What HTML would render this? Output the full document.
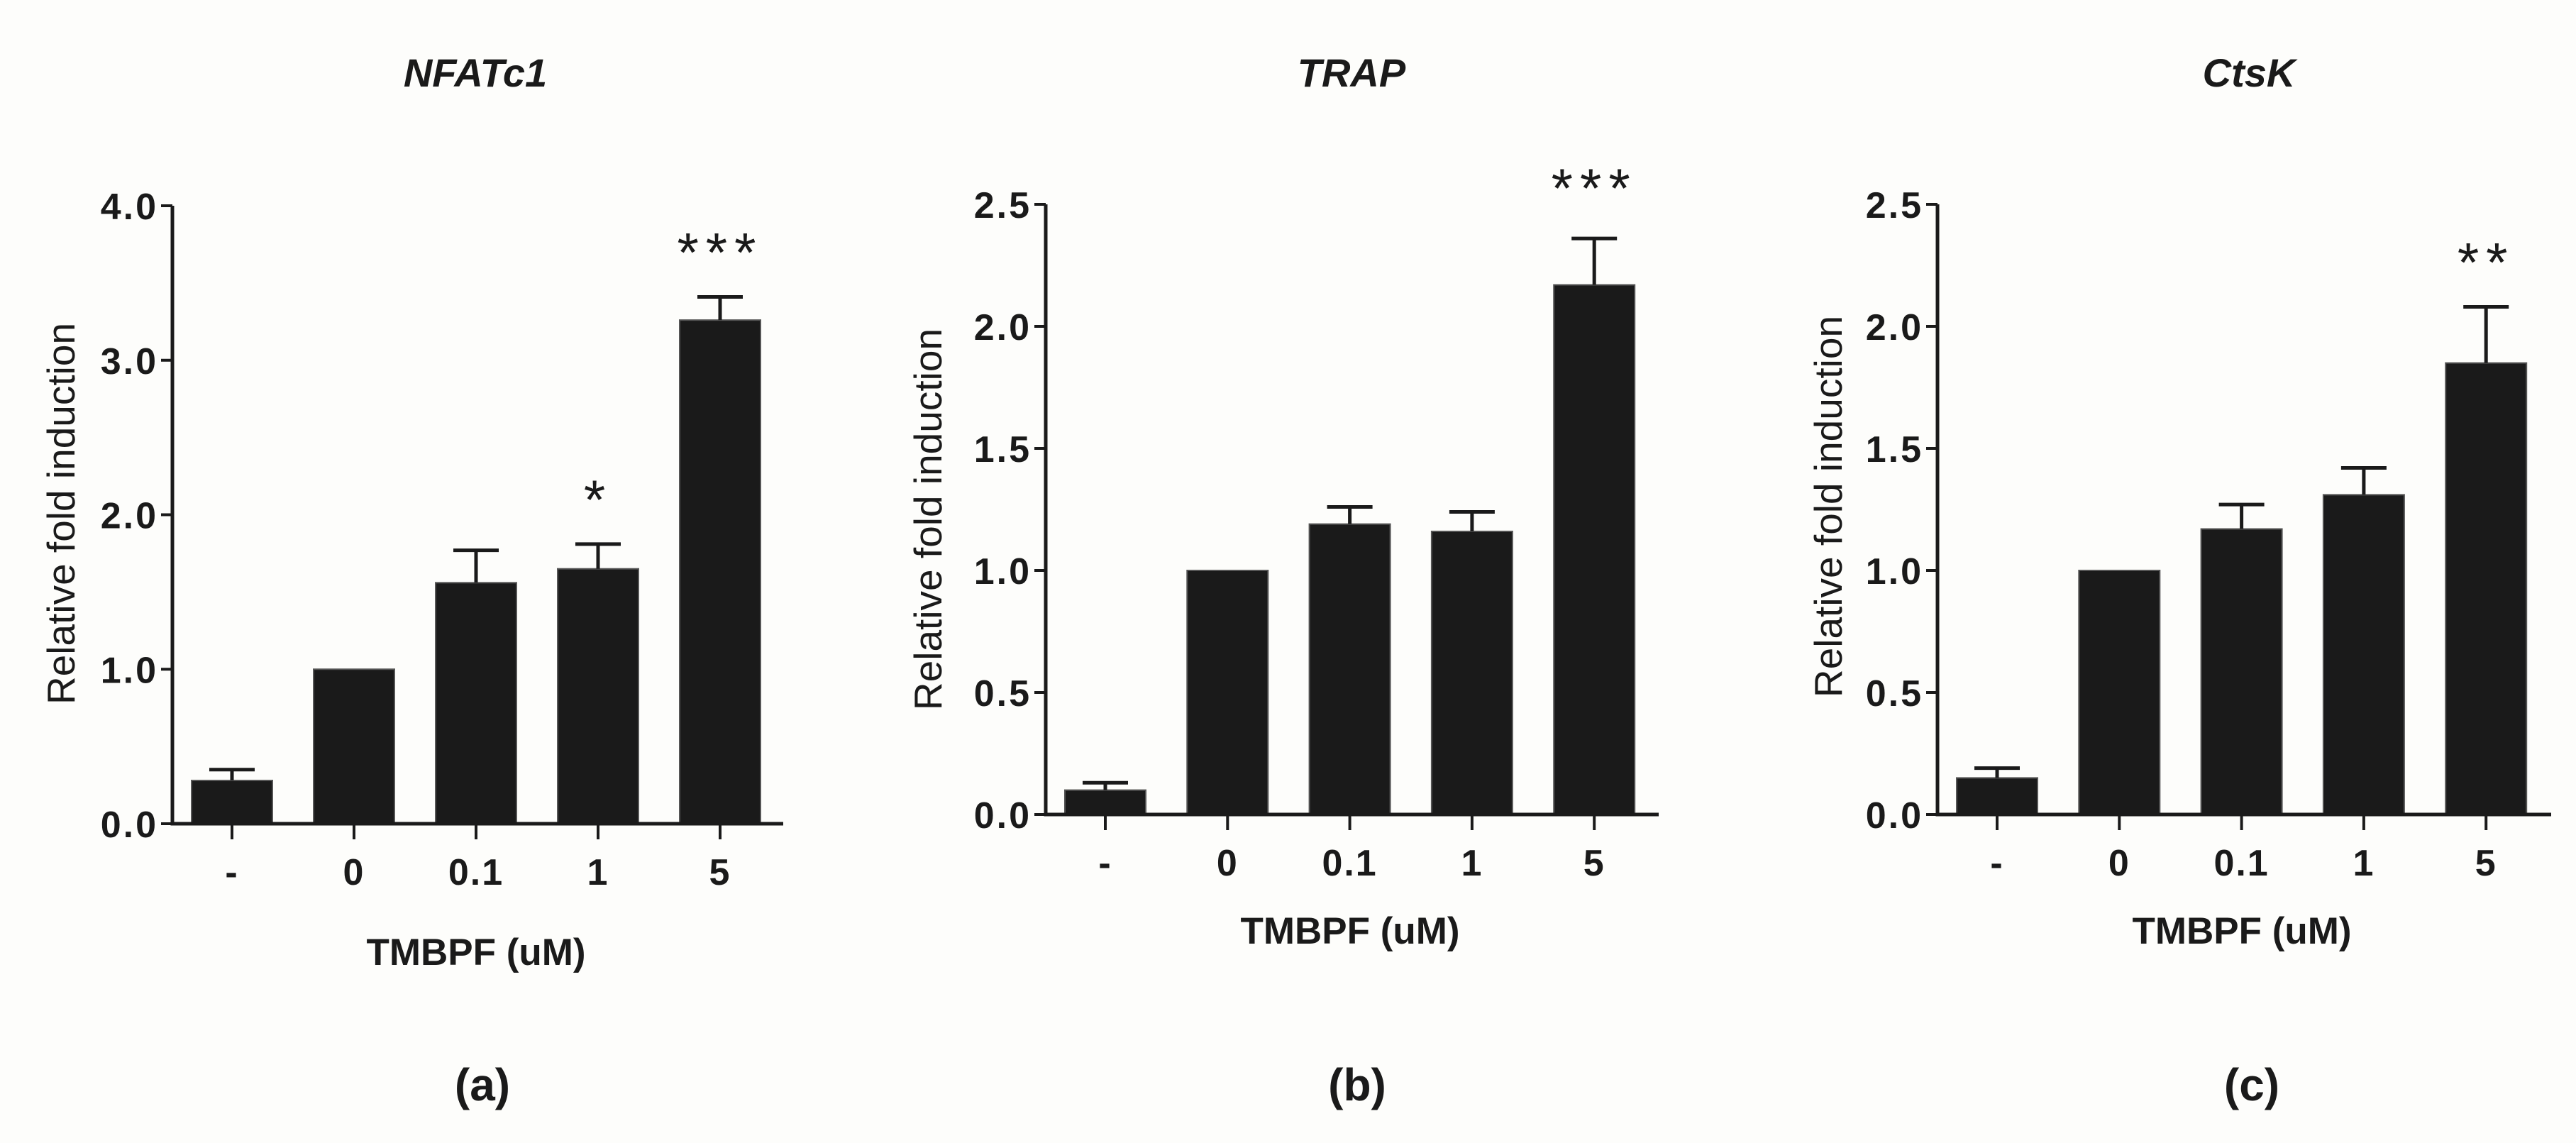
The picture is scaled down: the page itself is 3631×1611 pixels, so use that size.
<!DOCTYPE html>
<html><head><meta charset="utf-8"><style>
html,body{margin:0;padding:0;background:#fdfdfb;}
svg{display:block;}
text{font-family:"Liberation Sans",Arial,sans-serif;fill:#1a1a1a;}
</style></head><body>
<svg id="fig" width="3631" height="1611" viewBox="0 0 3631 1611" xmlns="http://www.w3.org/2000/svg"></svg>
<script>
const categories = ["-", "0", "0.1", "1", "5"];
const nfatValues = [0.28, 1.0, 1.56, 1.65, 3.26];
const nfatErrors = [0.07, 0, 0.21, 0.16, 0.15];
const trapValues = [0.10, 1.0, 1.19, 1.16, 2.17];
const trapErrors = [0.03, 0, 0.07, 0.08, 0.19];
const ctskValues = [0.15, 1.0, 1.17, 1.31, 1.85];
const ctskErrors = [0.04, 0, 0.10, 0.11, 0.23];
const nfatTicks = [0, 1, 2, 3, 4];
const nfatTickLabels = ["0.0", "1.0", "2.0", "3.0", "4.0"];
const halfTicks = [0, 0.5, 1, 1.5, 2, 2.5];
const halfTickLabels = ["0.0", "0.5", "1.0", "1.5", "2.0", "2.5"];
const nfatSig = ["", "", "", "*", "***"];
const trapSig = ["", "", "", "", "***"];
const ctskSig = ["", "", "", "", "**"];

const NS = "http://www.w3.org/2000/svg";
const svg = document.getElementById("fig");
function mk(tag, attrs, parent) {
  const e = document.createElementNS(NS, tag);
  for (const k in attrs) e.setAttribute(k, attrs[k]);
  (parent || svg).appendChild(e);
  return e;
}

const panels = [
  {id:"a", title:"NFATc1", vals:nfatValues, errs:nfatErrors, ticks:nfatTicks, tickLabels:nfatTickLabels, ymax:4, sig:nfatSig,
   ax:243, top:290, base:1161, right:1104, x0:327, step:172, ylx:86, yly:724, tx:670, xlx:671, xly:1341, lx:680, sigOff:36},
  {id:"b", title:"TRAP", vals:trapValues, errs:trapErrors, ticks:halfTicks, tickLabels:halfTickLabels, ymax:2.5, sig:trapSig,
   ax:1474, top:288, base:1148, right:2338, x0:1558, step:172.3, ylx:1308, yly:732, tx:1905, xlx:1903, xly:1311, lx:1913, sigOff:44},
  {id:"c", title:"CtsK", vals:ctskValues, errs:ctskErrors, ticks:halfTicks, tickLabels:halfTickLabels, ymax:2.5, sig:ctskSig,
   ax:2731, top:288, base:1148, right:3596, x0:2815, step:172.3, ylx:2577, yly:714, tx:3170, xlx:3160, xly:1311, lx:3174, sigOff:36}
];

panels.forEach(p => {
  const g = mk("g", {});
  
  
  const y = v => p.base - (v / p.ymax) * (p.base - p.top);
  const x = i => p.x0 + i * p.step;
  const bw = 114;

  const t = mk("text", {x:p.tx, y:122, "text-anchor":"middle", "font-size":56, "font-weight":"bold", "font-style":"italic"}, g);
  t.textContent = p.title;
  
  

  p.vals.forEach((v, i) => {
    const r = mk("rect", {x:x(i)-bw/2, y:y(v), width:bw, height:p.base - y(v), fill:"#1a1a1a", stroke:"#555", "stroke-width":2}, g);
    
    
    if (p.errs[i] > 0) {
      const ey = y(v + p.errs[i]);
      const eb = mk("path", {d:`M${x(i)} ${y(v)} V${ey} M${x(i)-32} ${ey} H${x(i)+32}`, stroke:"#1a1a1a", "stroke-width":5, fill:"none"}, g);
      
      
    }
    if (p.sig[i]) {
      const s = mk("text", {x:x(i), y:y(v + p.errs[i]) - p.sigOff, "text-anchor":"middle", "font-size":78, "letter-spacing":10}, g);
      s.textContent = p.sig[i];
      
      
    }
    const tk = mk("line", {x1:x(i), x2:x(i), y1:p.base, y2:p.base + 22, stroke:"#1a1a1a", "stroke-width":4}, g);
    
    
    const tl = mk("text", {x:x(i), y:p.base + 86, "text-anchor":"middle", "font-size":52, "font-weight":"bold", "letter-spacing":2}, g);
    tl.textContent = categories[i];
    
    
  });

  const axes = mk("path", {d:`M${p.ax} ${p.top} V${p.base} H${p.right}`, stroke:"#1a1a1a", "stroke-width":5, fill:"none"}, g);
  
  
  p.ticks.forEach((tv, j) => {
    const yl = mk("line", {x1:p.ax - 16, x2:p.ax, y1:y(tv), y2:y(tv), stroke:"#1a1a1a", "stroke-width":4}, g);
    
    
    const lab = mk("text", {x:p.ax - 20, y:y(tv) + 19, "text-anchor":"end", "font-size":52, "font-weight":"bold", "letter-spacing":3}, g);
    lab.textContent = p.tickLabels[j];
    
    
  });

  const yt = mk("text", {x:p.ylx, y:p.yly, "text-anchor":"middle", "font-size":55, transform:`rotate(-90 ${p.ylx} ${p.yly})`, dy:19}, g);
  yt.textContent = "Relative fold induction";
  
  

  const xt = mk("text", {x:p.xlx, y:p.xly + 19, "text-anchor":"middle", "font-size":53, "font-weight":"bold"}, g);
  xt.textContent = "TMBPF (uM)";
  
  

  const pl = mk("text", {x:p.lx, y:1551, "text-anchor":"middle", "font-size":64, "font-weight":"bold"}, g);
  pl.textContent = "(" + p.id + ")";
  
  
});
</script>
</body></html>
